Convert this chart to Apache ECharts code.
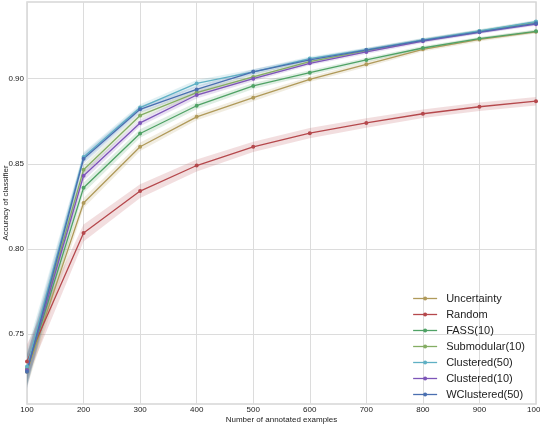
<!DOCTYPE html>
<html lang="en">
<head>
    <meta charset="UTF-8">
    <title>Accuracy of classifier</title>
    <script src="https://cdn.jsdelivr.net/npm/echarts@6/dist/echarts.min.js"></script>
    <style>
        html, body { margin: 0; padding: 0; background: #fff; }
    </style>
</head>
<body>
    <div id="main" style="width: 540px;height:424px;"></div>
    <script type="text/javascript">
    // number of annotated examples
    var examples = [100, 200, 300, 400, 500, 600, 700, 800, 900, 1000];
    var yTicks = [0.75, 0.80, 0.85, 0.90];

    // mean accuracy per method
    var uncertainty = [0.728, 0.827, 0.860, 0.8776, 0.8888, 0.8996, 0.9084, 0.9172, 0.9230, 0.9275];
    var random      = [0.734, 0.8094, 0.834, 0.849, 0.860, 0.868, 0.874, 0.8794, 0.8835, 0.8868];
    var fass        = [0.729, 0.836, 0.8678, 0.8841, 0.8957, 0.9035, 0.911, 0.918, 0.9235, 0.9278];
    var submodular  = [0.730, 0.8465, 0.8784, 0.8918, 0.901, 0.910, 0.9165, 0.9225, 0.9278, 0.9332];
    var clustered50 = [0.731, 0.854, 0.883, 0.8972, 0.904, 0.9118, 0.917, 0.9228, 0.928, 0.9335];
    var clustered10 = [0.729, 0.843, 0.874, 0.8904, 0.900, 0.909, 0.9157, 0.922, 0.9272, 0.932];
    var wclustered  = [0.728, 0.853, 0.882, 0.8937, 0.904, 0.911, 0.9168, 0.9225, 0.9275, 0.9325];

    // half width of the shaded band around each line
    var bandUnc  = [0.009, 0.003, 0.0025, 0.002, 0.002, 0.0015, 0.0015, 0.0012, 0.0012, 0.001];
    var bandRand = [0.010, 0.005, 0.004, 0.0035, 0.003, 0.003, 0.0028, 0.0025, 0.0025, 0.0025];
    var bandFass = [0.009, 0.003, 0.0025, 0.002, 0.0018, 0.0015, 0.0012, 0.0012, 0.001, 0.001];
    var bandSub  = [0.009, 0.003, 0.002, 0.002, 0.0015, 0.0012, 0.0012, 0.001, 0.001, 0.001];
    var bandC50  = [0.010, 0.003, 0.002, 0.002, 0.0015, 0.0012, 0.0012, 0.001, 0.001, 0.001];
    var bandC10  = [0.009, 0.003, 0.002, 0.002, 0.0015, 0.0012, 0.0012, 0.001, 0.001, 0.001];
    var bandWc   = [0.010, 0.003, 0.002, 0.002, 0.0015, 0.0012, 0.0012, 0.001, 0.001, 0.001];

    var methods = [
        { name: 'Uncertainty',    color: '#b09a5a', mean: uncertainty, band: bandUnc },
        { name: 'Random',         color: '#b5484c', mean: random,      band: bandRand },
        { name: 'FASS(10)',       color: '#4fa265', mean: fass,        band: bandFass },
        { name: 'Submodular(10)', color: '#84ad63', mean: submodular,  band: bandSub },
        { name: 'Clustered(50)',  color: '#5fb0c4', mean: clustered50, band: bandC50 },
        { name: 'Clustered(10)',  color: '#7d55b8', mean: clustered10, band: bandC10 },
        { name: 'WClustered(50)', color: '#4a6fb0', mean: wclustered,  band: bandWc }
    ];

    var myChart = echarts.init(document.getElementById('main'));

    // each band segment is a quad between two neighbouring x values
    function bandSegments(m) {
        var segs = [];
        for (var j = 0; j < examples.length - 1; j++) {
            segs.push([
                examples[j], m.mean[j] - m.band[j], m.mean[j] + m.band[j],
                examples[j + 1], m.mean[j + 1] - m.band[j + 1], m.mean[j + 1] + m.band[j + 1]
            ]);
        }
        return segs;
    }

    function renderBand(color) {
        return function (params, api) {
            var p1 = api.coord([api.value(0), api.value(1)]);
            var p2 = api.coord([api.value(0), api.value(2)]);
            var p3 = api.coord([api.value(3), api.value(5)]);
            var p4 = api.coord([api.value(3), api.value(4)]);
            return {
                type: 'polygon',
                shape: { points: [p1, p2, p3, p4] },
                style: { fill: color, opacity: 0.18 },
                silent: true
            };
        };
    }

    var series = [];
    methods.forEach(function (m) {
        series.push({
            type: 'custom',
            renderItem: renderBand(m.color),
            data: bandSegments(m),
            encode: { x: [0, 3], y: [1, 2, 4, 5] },
            clip: true,
            silent: true,
            z: 1
        });
    });
    methods.forEach(function (m) {
        series.push({
            name: m.name,
            type: 'line',
            data: m.mean.map(function (v, j) { return [examples[j], v]; }),
            symbol: 'circle',
            symbolSize: 4,
            itemStyle: { color: m.color },
            lineStyle: { color: m.color, width: 1.3 },
            z: 3
        });
    });

    var option = {
        backgroundColor: '#ffffff',
        animation: false,
        textStyle: { fontFamily: 'Liberation Sans, Arial, sans-serif' },
        grid: {
            left: 27, right: 4, top: 2, bottom: 20,
            outerBoundsMode: 'none',
            containLabel: false,
            show: true, borderColor: '#d6d6d6', borderWidth: 1.5
        },
        legend: {
            data: methods.map(function (m) { return m.name; }),
            orient: 'vertical',
            right: 10,
            bottom: 19,
            itemWidth: 24,
            itemHeight: 5,
            itemGap: 5,
            lineStyle: { width: 1.3 },
            textStyle: { fontSize: 11, color: '#222', padding: [0, 0, 0, 4] }
        },
        xAxis: {
            type: 'value',
            min: 100, max: 1000, interval: 100,
            name: 'Number of annotated examples',
            nameLocation: 'middle', nameGap: 12,
            nameMoveOverlap: false,
            nameTextStyle: { fontSize: 8, color: '#222' },
            axisLine: { show: false },
            axisTick: { show: false },
            axisLabel: {
                fontSize: 8, color: '#222', margin: 2,
                formatter: function (v) { return String(v); }
            },
            splitLine: { lineStyle: { color: '#dcdcdc', width: 1 } }
        },
        yAxis: {
            type: 'value',
            min: 0.709, max: 0.945,
            name: 'Accuracy of classifier',
            nameLocation: 'middle', nameGap: 17,
            nameMoveOverlap: false,
            nameTextStyle: { fontSize: 8, color: '#222' },
            axisLine: { show: false },
            axisTick: { show: false, customValues: yTicks },
            axisLabel: {
                fontSize: 8, color: '#222', margin: 3,
                customValues: yTicks,
                formatter: function (v) { return v.toFixed(2); }
            },
            splitLine: { lineStyle: { color: '#dcdcdc', width: 1 } }
        },
        series: series
    };

    myChart.setOption(option);
    </script>
</body>
</html>
